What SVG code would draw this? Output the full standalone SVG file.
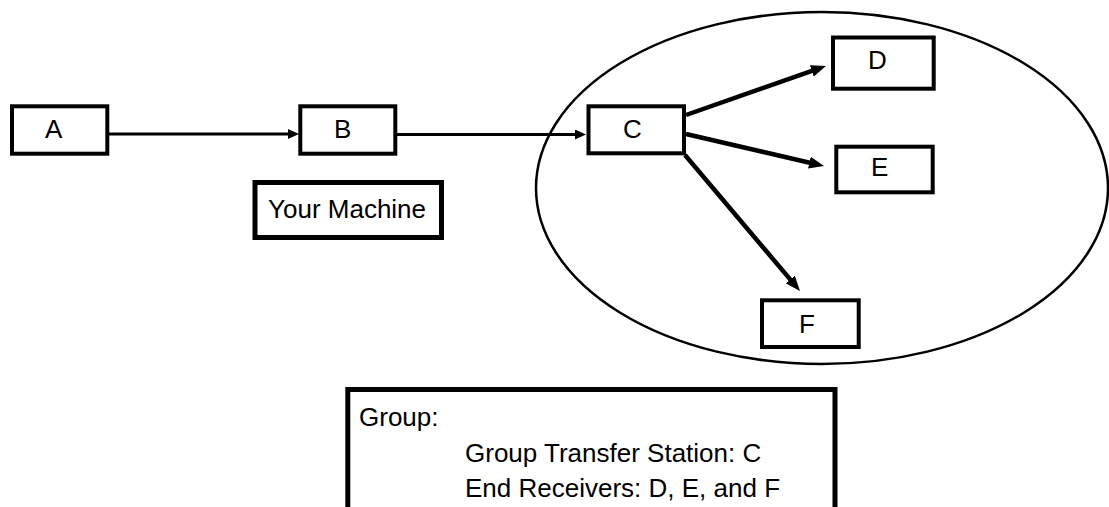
<svg xmlns="http://www.w3.org/2000/svg" width="1109" height="507" viewBox="0 0 1109 507">
<style>
.box{fill:#fff;stroke:#000;stroke-width:4}
.thick{fill:#fff;stroke:#000;stroke-width:5}
.lbl{font-family:"Liberation Sans",Arial,sans-serif;font-size:26px;fill:#000}
.conn{stroke:#000;fill:none}
.thin{stroke-width:3}
.wide{stroke-width:4.5}
</style>
<defs>
<marker id="ahS" markerUnits="userSpaceOnUse" markerWidth="11" markerHeight="10" refX="4" refY="5" orient="auto"><path d="M0,0 L11,5 L0,10 z" fill="#000"/></marker>
<marker id="ahL" markerUnits="userSpaceOnUse" markerWidth="15" markerHeight="12" refX="7" refY="6" orient="auto"><path d="M0,0 L15,6 L0,12 z" fill="#000"/></marker>
</defs>
<rect width="1109" height="507" fill="#fff"/>
<g id="group-ellipse"><ellipse cx="822" cy="188" rx="286" ry="176" fill="none" stroke="#000" stroke-width="2.5"/></g>
<g id="connectors">
<line class="conn thin" x1="109" y1="134" x2="292" y2="134" marker-end="url(#ahS)"/>
<line class="conn thin" x1="397" y1="134.5" x2="579" y2="134.5" marker-end="url(#ahS)"/>
<line class="conn wide" x1="686" y1="115" x2="818.4" y2="68.6" marker-end="url(#ahL)"/>
<line class="conn wide" x1="686" y1="134" x2="816.2" y2="164.2" marker-end="url(#ahL)"/>
<line class="conn wide" x1="685" y1="155" x2="794.8" y2="284.9" marker-end="url(#ahL)"/>
</g>
<g id="node-A"><rect class="box" x="12" y="106.3" width="95.3" height="47.4"/><text class="lbl" x="45" y="138">A</text></g>
<g id="node-B"><rect class="box" x="300.3" y="106.3" width="95" height="47.4"/><text class="lbl" x="334" y="138">B</text></g>
<g id="node-C"><rect class="box" x="588.5" y="106.3" width="95.5" height="47"/><text class="lbl" x="623" y="137.5">C</text></g>
<g id="node-D"><rect class="box" x="833" y="37.5" width="100.7" height="51.2"/><text class="lbl" x="868" y="69">D</text></g>
<g id="node-E"><rect class="box" x="836.3" y="146.7" width="96.4" height="45.6"/><text class="lbl" x="871" y="175.7">E</text></g>
<g id="node-F"><rect class="box" x="762" y="300.3" width="96.7" height="46.7"/><text class="lbl" x="799" y="333.3">F</text></g>
<g id="node-your-machine"><rect class="thick" x="255" y="182.5" width="186.5" height="55"/><text class="lbl" x="268" y="218.3">Your Machine</text></g>
<g id="node-legend"><rect class="thick" x="347.8" y="389.5" width="487.2" height="130" stroke-width="5.5"/>
<text class="lbl" x="359" y="425.7">Group:</text>
<text class="lbl" x="465" y="461.7">Group Transfer Station: C</text>
<text class="lbl" x="465" y="496.7">End Receivers: D, E, and F</text>
</g>
</svg>
